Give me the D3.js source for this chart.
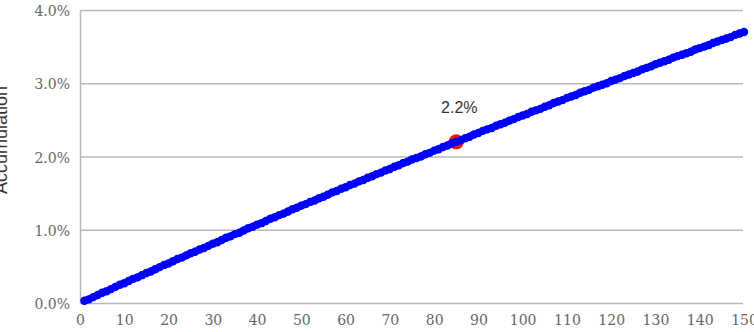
<!DOCTYPE html>
<html>
<head>
<meta charset="utf-8">
<script src="https://cdn.jsdelivr.net/npm/d3@7"></script>
<style>
  html, body { margin: 0; padding: 0; background: #fff; }
  svg { display: block; }
  .tick text { font-family: "DejaVu Serif", serif; font-size: 14px; fill: #666; }
</style>
</head>
<body>
<svg id="chart" width="754" height="332"></svg>
<script>
// x positions 1..150, accumulation in percent
const periods = d3.range(1, 151);
const accumulation = [
  0.03, 0.05, 0.08, 0.11, 0.14, 0.16, 0.19, 0.22, 0.25, 0.27,
  0.30, 0.33, 0.35, 0.38, 0.41, 0.43, 0.46, 0.49, 0.52, 0.54,
  0.57, 0.60, 0.62, 0.65, 0.68, 0.70, 0.73, 0.75, 0.78, 0.81,
  0.83, 0.86, 0.89, 0.91, 0.94, 0.96, 0.99, 1.02, 1.04, 1.07,
  1.09, 1.12, 1.15, 1.17, 1.20, 1.22, 1.25, 1.28, 1.30, 1.33,
  1.35, 1.38, 1.40, 1.43, 1.45, 1.48, 1.51, 1.53, 1.56, 1.58,
  1.61, 1.63, 1.66, 1.68, 1.71, 1.73, 1.76, 1.78, 1.81, 1.83,
  1.86, 1.88, 1.91, 1.93, 1.96, 1.98, 2.00, 2.03, 2.05, 2.08,
  2.10, 2.13, 2.15, 2.18, 2.20, 2.22, 2.25, 2.27, 2.30, 2.32,
  2.35, 2.37, 2.39, 2.42, 2.44, 2.46, 2.49, 2.51, 2.54, 2.56,
  2.58, 2.61, 2.63, 2.65, 2.68, 2.70, 2.73, 2.75, 2.77, 2.80,
  2.82, 2.84, 2.87, 2.89, 2.91, 2.94, 2.96, 2.98, 3.00, 3.03,
  3.05, 3.07, 3.10, 3.12, 3.14, 3.16, 3.19, 3.21, 3.23, 3.26,
  3.28, 3.30, 3.32, 3.35, 3.37, 3.39, 3.41, 3.43, 3.46, 3.48,
  3.50, 3.52, 3.55, 3.57, 3.59, 3.61, 3.63, 3.66, 3.68, 3.70
];
const highlightX = [85];
const highlightVal = [2.2];
const highlightLabel = ["2.2%"];
const xTicks = d3.range(0, 151, 10);
const yTicks = [0, 1, 2, 3, 4];
const yTitle = "Accumulation";

const svg = d3.select("#chart");
const plotLeft = 80, plotRight = 744, plotTop = 10, plotBottom = 303;

const x = d3.scaleLinear().domain([0, 150]).range([plotLeft, plotRight]);
const y = d3.scaleLinear().domain([0, 4]).range([plotBottom, plotTop]);

// horizontal gridlines + y labels
const yAxis = svg.append("g")
    .attr("transform", "translate(" + plotLeft + ",0)")
    .call(d3.axisLeft(y).tickValues(yTicks)
        .tickSizeInner(-(plotRight - 1 - plotLeft)).tickSizeOuter(0).tickPadding(10)
        .tickFormat(d => d3.format(".1f")(d) + "%"));
yAxis.select(".domain").attr("stroke", "#b8b8b8").attr("stroke-width", 1.5);
yAxis.selectAll(".tick line").attr("stroke", "#b8b8b8").attr("stroke-width", 1.5);
yAxis.selectAll(".tick text").attr("dy", "0.4em");

// x axis labels
const xAxis = svg.append("g")
    .attr("transform", "translate(0," + plotBottom + ")")
    .call(d3.axisBottom(x).tickValues(xTicks).tickSize(0).tickPadding(12));
xAxis.select(".domain").remove();

// y title (partly cut at left edge, like the original)
svg.append("text")
    .attr("transform", "translate(7,140) rotate(-90)")
    .attr("text-anchor", "middle")
    .style("font-family", "'Liberation Sans', Arial, sans-serif")
    .style("font-size", "18px")
    .style("fill", "#333")
    .text(yTitle);

// highlighted point sits under the line
svg.selectAll(".hl")
    .data(highlightX)
    .enter().append("circle")
    .attr("class", "hl")
    .attr("cx", d => x(d))
    .attr("cy", (d, i) => y(highlightVal[i]))
    .attr("r", 7.5)
    .attr("fill", "#ee1515");

const pts = periods.map((p, i) => [p, accumulation[i]]);
const line = d3.line().x(d => x(d[0])).y(d => y(d[1]));

svg.append("path")
    .datum(pts)
    .attr("d", line)
    .attr("fill", "none")
    .attr("stroke", "#0000ff")
    .attr("stroke-width", 7)
    .attr("stroke-linecap", "round");

svg.selectAll(".dot")
    .data(pts)
    .enter().append("circle")
    .attr("class", "dot")
    .attr("cx", d => x(d[0]))
    .attr("cy", d => y(d[1]))
    .attr("r", 4.2)
    .attr("fill", "#0000ff");

svg.selectAll(".hl-label")
    .data(highlightX)
    .enter().append("text")
    .attr("class", "hl-label")
    .attr("x", d => x(d) + 3)
    .attr("y", (d, i) => y(highlightVal[i]) - 29)
    .attr("text-anchor", "middle")
    .style("font-family", "'Liberation Sans', Arial, sans-serif")
    .style("font-size", "16px")
    .style("fill", "#333")
    .text((d, i) => highlightLabel[i]);
</script>
</body>
</html>
